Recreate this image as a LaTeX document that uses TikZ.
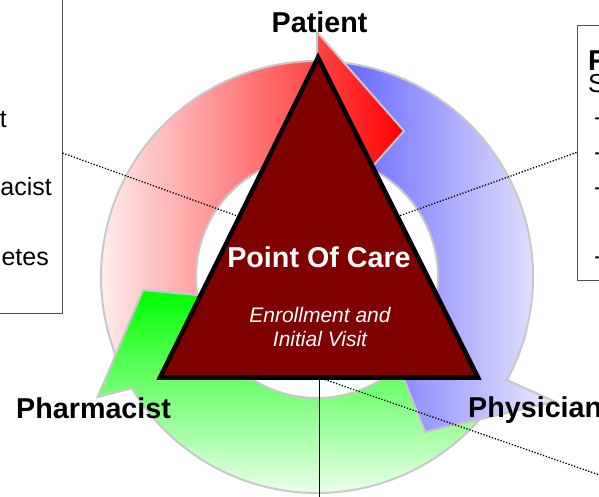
\documentclass[tikz,border=0pt]{standalone}
\usepackage{fontspec}
\setmainfont{Liberation Sans}
\definecolor{care}{RGB}{128,0,0}
\definecolor{rim}{RGB}{200,200,200}
\definecolor{boxline}{RGB}{80,80,80}
\definecolor{redhi}{RGB}{255,0,0}
\definecolor{redlo}{RGB}{255,246,246}
\definecolor{bluehi}{RGB}{85,85,255}
\definecolor{bluelo}{RGB}{236,236,255}
\definecolor{greenhi}{RGB}{0,255,0}
\definecolor{greenlo}{RGB}{242,255,242}

\begin{document}
\begin{tikzpicture}[x=1pt,y=1pt,
		band/.style={draw=rim,line width=2pt,line join=miter},
		hint/.style={line width=1.3pt,dash pattern=on 1.3pt off 1.7pt},
		role/.style={font=\fontsize{28.7}{32}\selectfont\bfseries},
		note/.style={font=\fontsize{25}{30}\selectfont},
		visit/.style={font=\fontsize{21}{24}\selectfont\itshape,text=white,anchor=base},
		panel/.style={draw=boxline,line width=1pt,minimum width=300pt}]
		\tikzstyle{every node}+=[inner sep=0pt]
		\useasboundingbox (0,0) rectangle (599,-496);
		\begin{scope}[shift={(317,-277)}]
		\shadedraw [band,left color=bluehi,right color=bluelo] (90:216) arc [start angle=90,end angle=-28.5,radius=216] -- (-27.7:268) -- (-55.1:189) -- (-28.5:67) -- (-28.5:121) arc [start angle=-28.5,end angle=90,radius=121] -- cycle;
		\shadedraw [band,left color=redlo,right color=redhi] (205:216) arc [start angle=205,end angle=90,radius=216] -- (90:245) -- (59.2:170) -- (90:48) -- (90:121) arc [start angle=90,end angle=205,radius=121] -- cycle;
		\shadedraw [band,top color=greenhi,bottom color=greenlo] (-35:216) arc [start angle=-35,end angle=-149,radius=216] -- (-151.3:250) -- (-175.7:174.5) -- (-148.6:48) -- (-149:121) arc [start angle=-149,end angle=-35,radius=121] -- cycle;
		\begin{scope}
		\clip (0,0) -- (-15:320) -- (-75:320) -- cycle;
		\shadedraw [band,left color=bluehi,right color=bluelo] (90:216) arc [start angle=90,end angle=-28.5,radius=216] -- (-27.7:268) -- (-55.1:189) -- (-28.5:67) -- (-28.5:121) arc [start angle=-28.5,end angle=90,radius=121] -- cycle;
		\end{scope}
		\end{scope}
		\node [panel,minimum height=320pt] (notes) at (-88,-153) {};
		\node [panel,minimum height=255pt] (facts) at (727,-152.5) {};
		\coordinate (peak) at (318,-57.5);
		\coordinate (wcorner) at (160,-377.5);
		\coordinate (ecorner) at (478,-377.5);
		\coordinate (base) at (319,-377.5);
		\coordinate (hub) at (318,-245);
		\coordinate (far) at (640,-489);
		\coordinate (foot) at (319,-510);
		\draw [hint] (notes.east) -- (hub);
		\draw [hint] (facts.west) -- (hub);
		\draw [hint] (base) -- (far);
		\draw [line width=0.8pt] (base) -- (foot);
		\filldraw [fill=care,draw=black,line width=4.5pt,line join=miter] (peak) -- (wcorner) -- (ecorner) -- cycle;
		\node [role,text=white,anchor=base] (poc) at (319,-267) {Point Of Care};
		\node [visit] (enrol) at (320,-322) {Enrollment and};
		\node [visit] (initial) at (320,-346) {Initial Visit};
		\node [role,anchor=base] (patient) at (319.5,-32) {Patient};
		\node [role,anchor=base west] (pharmacist) at (16,-418) {Pharmacist};
		\node [role,anchor=base west] (physician) at (468,-417) {Physician};
		\node [note,anchor=base east] (ltop) at (7,-127) {t};
		\node [note,anchor=base east] (lmid) at (52,-195) {acist};
		\node [note,anchor=base east] (lbot) at (49,-265) {etes};
		\node [role,anchor=base west] (ftitle) at (588,-70) {F};
		\node [font=\fontsize{26}{30}\selectfont,anchor=base west] (sline) at (588,-92) {S};
		\foreach \y [count=\i] in {125,160,195,264}
			\node [note,anchor=base west] (dash\i) at (594,-\y) {-};
		\end{tikzpicture}
\end{document}
